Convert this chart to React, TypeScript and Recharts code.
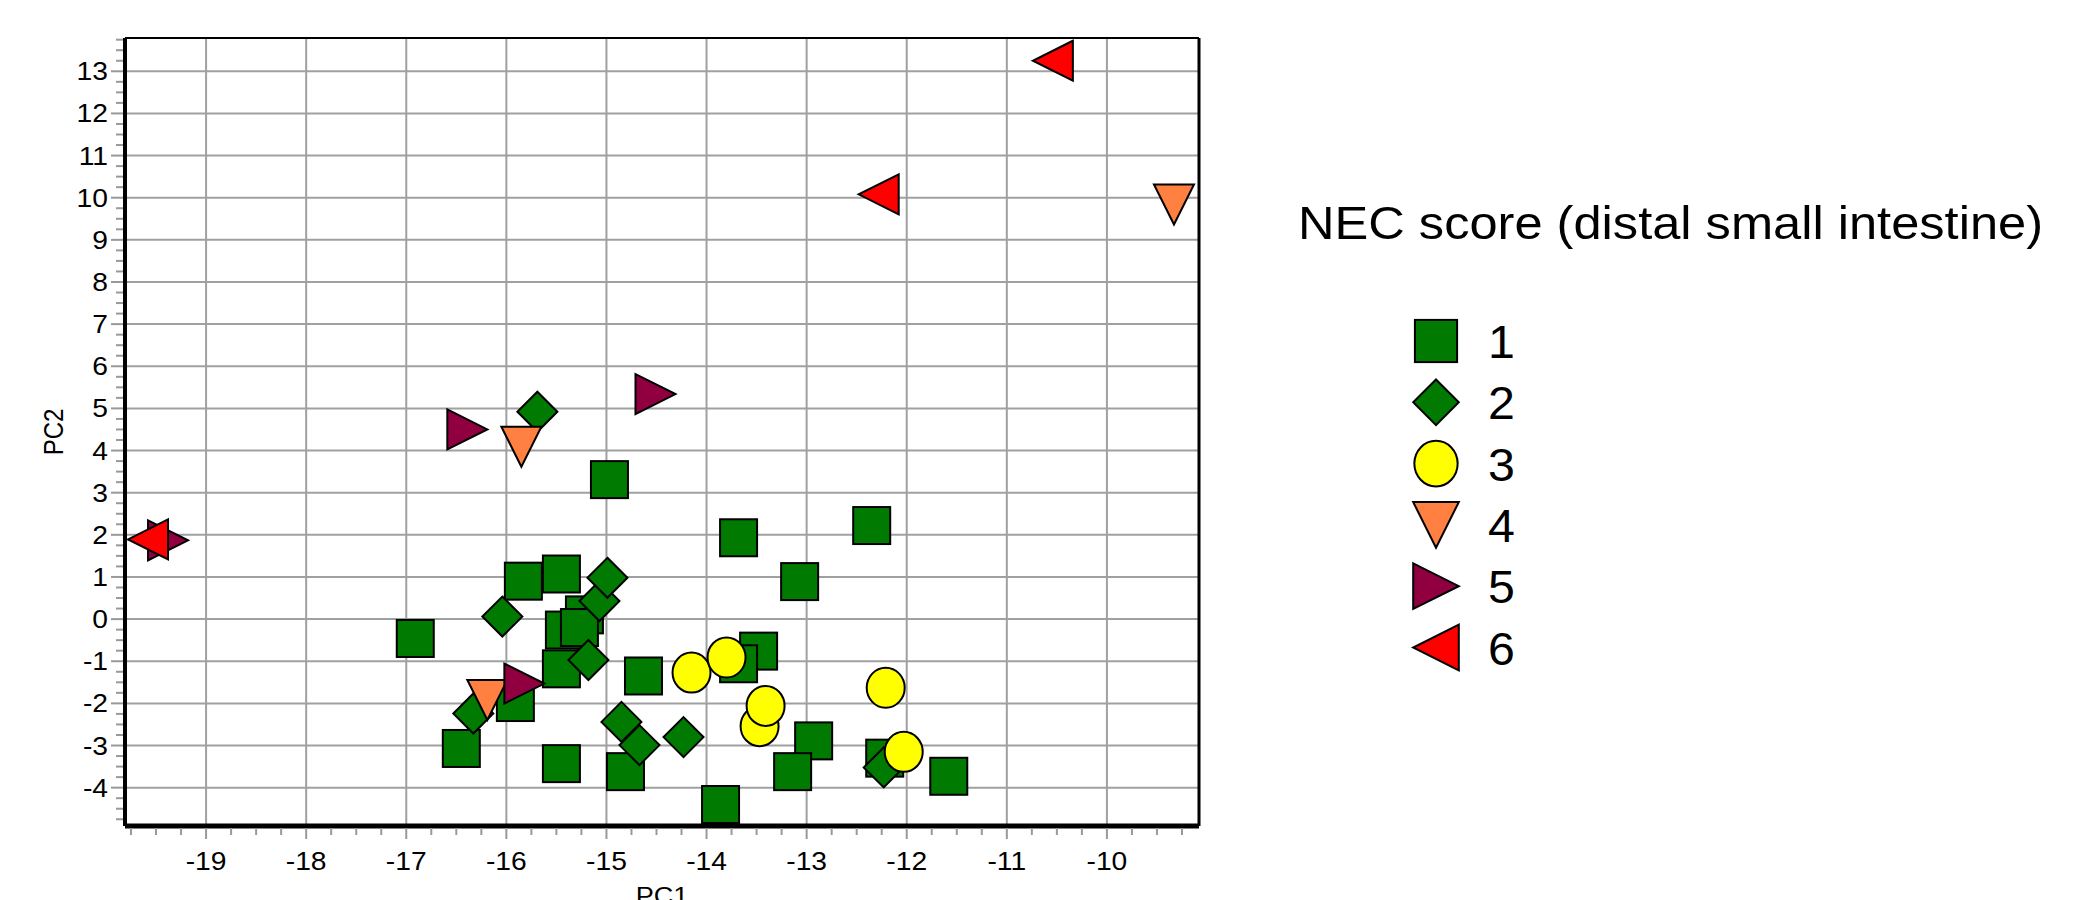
import React from 'react';
import { ScatterChart, Scatter, XAxis, YAxis, CartesianGrid, ReferenceLine, Label } from 'recharts';

const FONT = '"Liberation Sans", Arial, Helvetica, sans-serif';
const STRETCH = 1.13;

// NEC score groups: [PC1, PC2]
const score1: [number, number][] = [
  [-14.97, 3.31], [-15.83, 0.9], [-15.45, 1.07], [-15.22, 0.1], [-15.42, -0.26],
  [-15.27, -0.2], [-16.91, -0.46], [-15.45, -1.18], [-14.63, -1.35], [-15.91, -1.98],
  [-16.45, -3.07], [-15.45, -3.43], [-14.81, -3.62], [-13.68, 1.93], [-12.35, 2.22],
  [-13.07, 0.89], [-13.48, -0.76], [-13.68, -1.06], [-12.93, -2.89], [-13.14, -3.62],
  [-12.22, -3.3], [-11.58, -3.73], [-13.86, -4.4],
];
const score2: [number, number][] = [
  [-15.69, 4.92], [-15.07, 0.43], [-14.99, 0.98], [-16.04, 0.06], [-15.18, -0.97],
  [-16.33, -2.24], [-14.85, -2.44], [-14.67, -2.99], [-14.23, -2.8], [-12.23, -3.52],
];
const score3: [number, number][] = [
  [-14.15, -1.27], [-13.8, -0.91], [-13.47, -2.54], [-13.41, -2.06], [-12.21, -1.63], [-12.03, -3.15],
];
const score4: [number, number][] = [[-9.33, 9.84], [-15.85, 4.09], [-16.19, -1.92]];
const score5: [number, number][] = [[-14.51, 5.34], [-16.39, 4.5], [-19.38, 1.87], [-15.82, -1.53]];
const score6: [number, number][] = [[-10.54, 13.25], [-12.28, 10.08], [-19.58, 1.89]];

const seriesNames = ['1', '2', '3', '4', '5', '6'];
const seriesColors = ['#007A00', '#007A00', '#FFFF00', '#FF8040', '#900040', '#FF0000'];
const seriesShapes = ['square', 'diamond', 'circle', 'down', 'right', 'left'];
const seriesData = [score1, score2, score3, score4, score5, score6];

const xMajorTicks = [-19, -18, -17, -16, -15, -14, -13, -12, -11, -10];
const yMajorTicks = [-4, -3, -2, -1, 0, 1, 2, 3, 4, 5, 6, 7, 8, 9, 10, 11, 12, 13];
const X_DOMAIN: [number, number] = [-19.81, -9.08];
const Y_DOMAIN: [number, number] = [-4.91, 13.79];

const legendTitle = 'NEC score (distal small intestine)';

function quarterTicks(lo: number, hi: number): number[] {
  const out: number[] = [];
  for (let k = Math.ceil(lo * 4); k <= Math.floor(hi * 4); k++) out.push(k / 4);
  return out;
}
const xTicks = quarterTicks(X_DOMAIN[0], X_DOMAIN[1]);
const yTicks = quarterTicks(Y_DOMAIN[0], Y_DOMAIN[1]);

function Marker({ kind, cx, cy, fill, s = 1 }: { kind: string; cx: number; cy: number; fill: string; s?: number }) {
  const common = { fill, stroke: '#000', strokeWidth: 2, strokeLinejoin: 'miter' as const };
  if (cx == null || cy == null || isNaN(cx) || isNaN(cy)) return null;
  switch (kind) {
    case 'square': {
      const h = 18.5 * s;
      return <rect x={cx - h} y={cy - h} width={2 * h} height={2 * h} {...common} />;
    }
    case 'diamond': {
      const h = 20 * s;
      return <polygon points={`${cx},${cy - h} ${cx + h},${cy} ${cx},${cy + h} ${cx - h},${cy}`} {...common} />;
    }
    case 'circle':
      return <ellipse cx={cx} cy={cy} rx={19 * s} ry={20 * s} {...common} />;
    case 'down': {
      const h = 20 * s;
      return <polygon points={`${cx - h},${cy - h} ${cx + h},${cy - h} ${cx},${cy + h}`} {...common} />;
    }
    case 'right': {
      const h = 20 * s;
      return <polygon points={`${cx - h},${cy - h} ${cx + h},${cy} ${cx - h},${cy + h}`} {...common} />;
    }
    case 'left':
    default: {
      const h = 20 * s;
      return <polygon points={`${cx + h},${cy - h} ${cx - h},${cy} ${cx + h},${cy + h}`} {...common} />;
    }
  }
}

const isMajor = (v: number) => Math.abs(v - Math.round(v)) < 1e-6;

const XTick = (props: any) => {
  const { x, y, payload } = props;
  const v = payload.value as number;
  const major = isMajor(v);
  return (
    <g>
      <line x1={x} x2={x} y1={y + 2} y2={y + (major ? 13 : 9)} stroke="#999" strokeWidth={2} />
      {major && (
        <text
          x={0}
          y={0}
          transform={`translate(${x},${y + 44}) scale(${STRETCH},1)`}
          textAnchor="middle"
          fontSize={25}
          fontFamily={FONT}
          fill="#000"
        >
          {String(Math.round(v))}
        </text>
      )}
    </g>
  );
};

const YTick = (props: any) => {
  const { x, y, payload } = props;
  const v = payload.value as number;
  const major = isMajor(v);
  return (
    <g>
      <line x1={x - 2} x2={x - (major ? 14 : 9)} y1={y} y2={y} stroke="#999" strokeWidth={2} />
      {major && (
        <text
          x={0}
          y={0}
          transform={`translate(${x - 17},${y + 9}) scale(${STRETCH},1)`}
          textAnchor="end"
          fontSize={25}
          fontFamily={FONT}
          fill="#000"
        >
          {String(Math.round(v))}
        </text>
      )}
    </g>
  );
};

const XLabel = (props: any) => {
  const vb = props.viewBox || { x: 125, y: 826, width: 1074, height: 74 };
  const cx = vb.x + vb.width / 2;
  return (
    <text
      x={0}
      y={0}
      transform={`translate(${cx},${vb.y + 78}) scale(${STRETCH},1)`}
      textAnchor="middle"
      fontSize={24}
      fontFamily={FONT}
      fill="#000"
    >
      PC1
    </text>
  );
};

const YLabel = (props: any) => {
  const vb = props.viewBox || { x: 0, y: 38, width: 125, height: 788 };
  const cy = vb.y + vb.height / 2;
  return (
    <text
      x={0}
      y={0}
      transform={`translate(63,${cy}) rotate(-90) scale(1,${STRETCH})`}
      textAnchor="middle"
      fontSize={24}
      fontFamily={FONT}
      fill="#000"
    >
      PC2
    </text>
  );
};

export default function App() {
  const series = seriesNames.map((name, i) => ({
    name,
    color: seriesColors[i],
    kind: seriesShapes[i],
    data: seriesData[i].map(([x, y]) => ({ x, y })),
  }));

  return (
    <div style={{ position: 'absolute', left: 0, top: 0, width: 2098, height: 900, background: '#fff' }}>
      <ScatterChart width={2098} height={900} margin={{ top: 38, right: 899, bottom: 0, left: 0 }}>
        <CartesianGrid
          horizontalValues={yMajorTicks}
          verticalValues={xMajorTicks}
          stroke="#a0a0a0"
          strokeWidth={2}
          fill="none"
        />
        <XAxis
          type="number"
          dataKey="x"
          domain={X_DOMAIN}
          ticks={xTicks}
          interval={0}
          allowDataOverflow
          height={74}
          tickSize={0}
          tickMargin={0}
          tickLine={false}
          tick={<XTick />}
          axisLine={{ stroke: '#000', strokeWidth: 5 }}
        >
          <Label content={<XLabel />} />
        </XAxis>
        <YAxis
          type="number"
          dataKey="y"
          domain={Y_DOMAIN}
          ticks={yTicks}
          interval={0}
          allowDataOverflow
          width={125}
          tickSize={0}
          tickMargin={0}
          tickLine={false}
          tick={<YTick />}
          axisLine={{ stroke: '#000', strokeWidth: 4 }}
        >
          <Label content={<YLabel />} />
        </YAxis>
        <ReferenceLine y={Y_DOMAIN[1]} stroke="#000" strokeWidth={2} />
        <ReferenceLine x={X_DOMAIN[1]} stroke="#000" strokeWidth={3} />
        {series.map((s) => (
          <Scatter
            key={s.name}
            name={s.name}
            data={s.data}
            fill={s.color}
            isAnimationActive={false}
            shape={(p: any) => <Marker kind={s.kind} cx={p.cx} cy={p.cy} fill={s.color} />}
          />
        ))}
      </ScatterChart>
      <svg
        width={2098}
        height={900}
        style={{ position: 'absolute', left: 0, top: 0, pointerEvents: 'none' }}
      >
        <text
          x={1298}
          y={239}
          fontSize={47}
          fontFamily={FONT}
          textLength={745}
          lengthAdjust="spacingAndGlyphs"
          fill="#000"
        >
          {legendTitle}
        </text>
        {series.map((s, i) => {
          const cy = 341 + 61.3 * i;
          return (
            <g key={s.name}>
              <Marker kind={s.kind} cx={1436} cy={cy} fill={s.color} s={1.14} />
              <text
                x={0}
                y={0}
                transform={`translate(1488,${cy + 17}) scale(1.05,1)`}
                fontSize={46}
                fontFamily={FONT}
                fill="#000"
              >
                {s.name}
              </text>
            </g>
          );
        })}
      </svg>
    </div>
  );
}
